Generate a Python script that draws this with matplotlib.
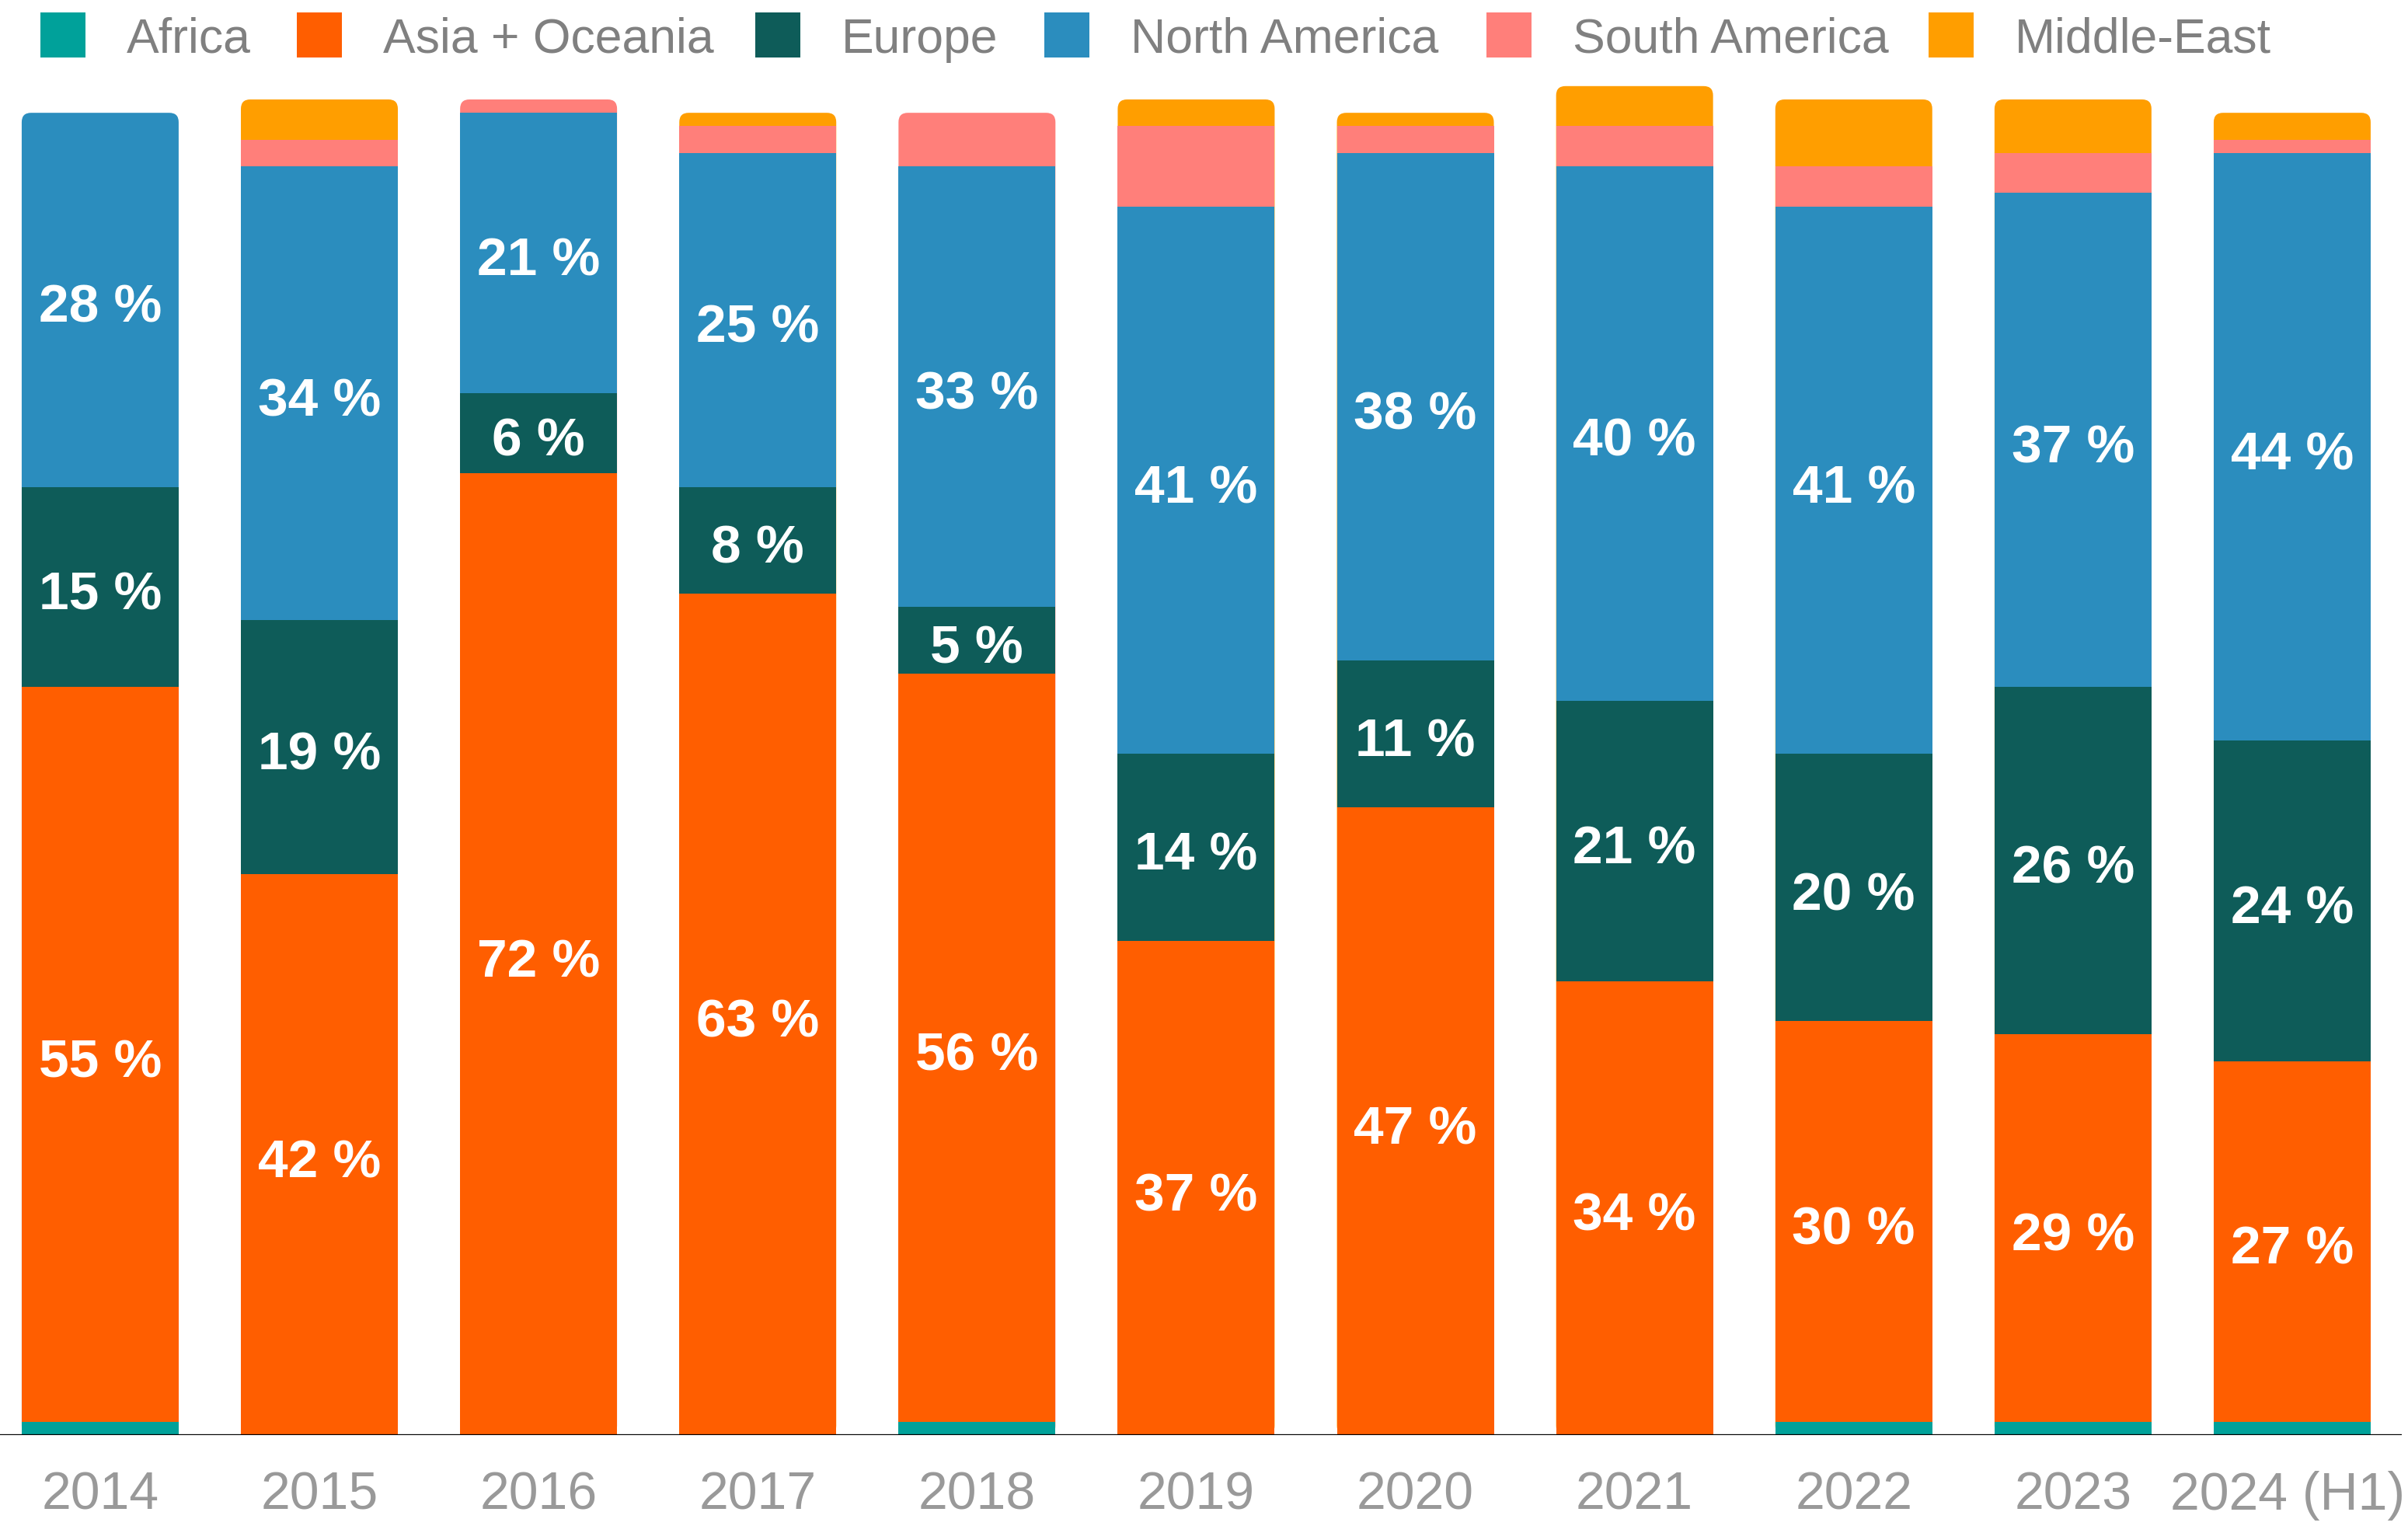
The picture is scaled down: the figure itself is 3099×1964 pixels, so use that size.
import matplotlib
matplotlib.use("Agg")
import matplotlib.pyplot as plt
from matplotlib.patches import FancyBboxPatch, Rectangle
from matplotlib.transforms import offset_copy, ScaledTranslation

# Share of new capacity by region (percent, rounded)
years = ["2014", "2015", "2016", "2017", "2018", "2019", "2020",
         "2021", "2022", "2023", "2024 (H1)"]
africa = [1, 0, 0, 0, 1, 0, 0, 0, 1, 1, 1]
asia_oceania = [55, 42, 72, 63, 56, 37, 47, 34, 30, 29, 27]
europe = [15, 19, 6, 8, 5, 14, 11, 21, 20, 26, 24]
north_america = [28, 34, 21, 25, 33, 41, 38, 40, 41, 37, 44]
south_america = [0, 2, 1, 2, 4, 6, 2, 3, 3, 3, 1]
middle_east = [0, 3, 0, 1, 0, 2, 1, 3, 5, 4, 2]

region_names = ["Africa", "Asia + Oceania", "Europe", "North America",
                "South America", "Middle-East"]
region_colors = ["#00A19A", "#FF5E00", "#0E5C59", "#2B8DBE",
                 "#FF7F7A", "#FF9E00"]
labelled = {"Asia + Oceania", "Europe", "North America"}

series = [africa, asia_oceania, europe, north_america, south_america, middle_east]

plt.rcParams["font.family"] = ["Liberation Sans", "DejaVu Sans"]

W, H, DPI = 3099, 1964, 200
fig = plt.figure(figsize=(W / DPI, H / DPI), dpi=DPI)

baseline_px = 1847
px_per_unit = 17.19
ymax = 105
ax = fig.add_axes([0.0, (H - baseline_px) / H, 3091 / W, ymax * px_per_unit / H])
ax.set_xlim(-0.457, 10.5)
ax.set_ylim(0, ymax)
for s in ax.spines.values():
    s.set_visible(False)
ax.set_yticks([])

x = list(range(len(years)))
bar_w = 0.716
x_unit_px = 282.0
radius_px = 12.0
rx = radius_px / x_unit_px
ry = radius_px / px_per_unit

for i in x:
    vals = [s[i] for s in series]
    total = sum(vals)
    top_idx = max(k for k, v in enumerate(vals) if v > 0)
    # full bar with rounded top corners, in the colour of its top segment
    box = FancyBboxPatch((i - bar_w / 2, 0), bar_w, total,
                         boxstyle=f"round,pad=0,rounding_size={rx}",
                         mutation_aspect=ry / rx,
                         facecolor=region_colors[top_idx], edgecolor="none",
                         zorder=1)
    ax.add_patch(box)

# value labels sit slightly below the segment centre
label_tf = offset_copy(ax.transData, fig=fig, x=0, y=-4.0, units="points")

bottom = [0] * len(years)
for k, (name, vals, col) in enumerate(zip(region_names, series, region_colors)):
    tops = [b + v for b, v in zip(bottom, vals)]
    for i in x:
        is_top = all(s[i] == 0 for s in series[k + 1:])
        if vals[i] > 0 and not is_top:
            ax.bar(i, vals[i], bottom=bottom[i], width=bar_w, color=col,
                   edgecolor="none", linewidth=0, zorder=2)
        if name in labelled and vals[i] > 0:
            ax.text(i, bottom[i] + vals[i] / 2, f"{vals[i]} %",
                    ha="center", va="center", color="white",
                    fontsize=25, fontweight="bold", zorder=3,
                    transform=label_tf)
    bottom = tops

ax.axhline(0, color="black", lw=1.2, zorder=4)

ax.set_xticks(x)
ax.set_xticklabels(years, fontsize=24.5, color="#999999")
ax.tick_params(axis="x", length=0, pad=16.5)
# keep the widest, last label inside the canvas
last = ax.get_xticklabels()[-1]
last.set_transform(last.get_transform()
                   + ScaledTranslation(-6 / DPI, 0, fig.dpi_scale_trans))

# legend row
legend_left_px = [52, 382, 972, 1344, 1913, 2482]
sq = 58
for name, col, lx in zip(region_names, region_colors, legend_left_px):
    fig.patches.append(Rectangle((lx / W, 1 - 74 / H), sq / W, sq / H,
                                 transform=fig.transFigure,
                                 facecolor=col, edgecolor="none"))
    fig.text((lx + 111) / W, 1 - 68 / H, name, fontsize=22.5,
             color="#808080", ha="left", va="baseline")

fig.savefig("out.png", dpi=DPI)
